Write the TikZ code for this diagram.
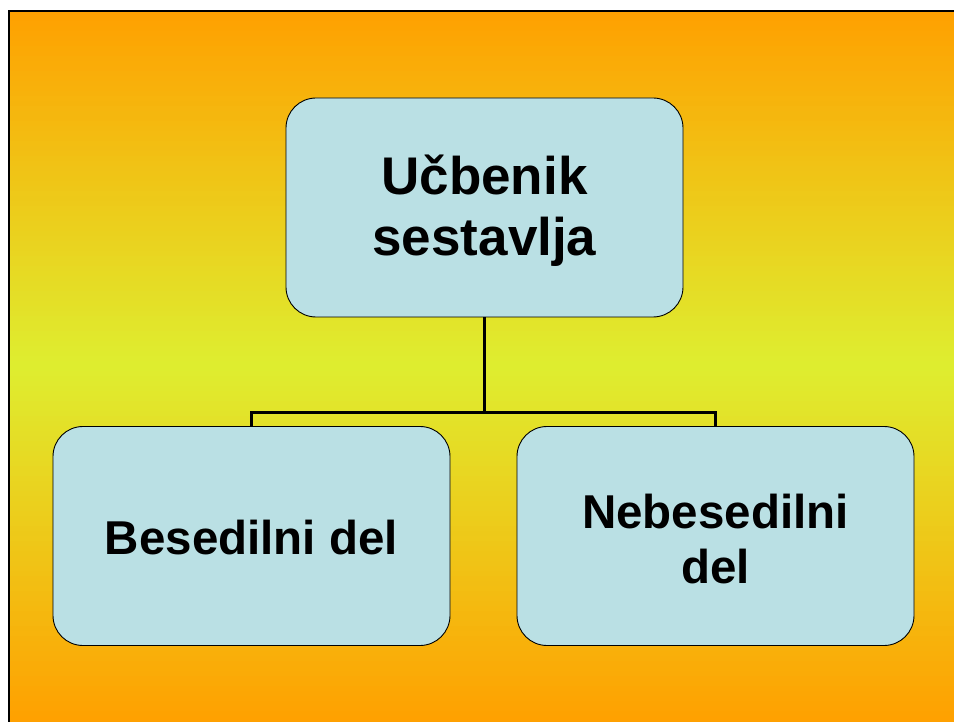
\documentclass[tikz,border=0pt]{standalone}
\usepackage{fontspec}
\setmainfont{Liberation Sans}
\definecolor{bgorange}{RGB}{255,160,0}
\definecolor{bgmid}{RGB}{222,238,48}
\definecolor{boxfill}{RGB}{186,224,228}
\tikzset{
  box/.style={draw=black, line width=0.9pt, fill=boxfill, rounded corners=30pt,
    minimum width=397pt, minimum height=219pt, inner sep=0pt},
  bigtext/.style={align=center, inner sep=0pt, font=\fontsize{53}{61}\selectfont\bfseries},
  smalltext/.style={align=center, inner sep=0pt, font=\fontsize{47.5}{55}\selectfont\bfseries},
  conn/.style={draw=black, line width=2.6pt}
}
\begin{document}
\begin{tikzpicture}[x=1pt,y=-1pt]
\useasboundingbox (0,0) rectangle (954,722);
\fill[white] (-10,-10) rectangle (975,740);
% vertical gradient: orange -> yellow-green -> orange
\foreach \i in {0,...,145} {
  \pgfmathsetmacro{\ya}{11+\i*5}
  \pgfmathsetmacro{\yb}{\ya+5.6}
  \pgfmathsetmacro{\t}{min(1,abs((\ya+2.5-366)/356))}
  \pgfmathsetmacro{\p}{round(100*(1-\t))}
  \fill[bgmid!\p!bgorange] (9,\ya) rectangle (975,\yb);
}
\draw[black, line width=2.6pt] (9,740) -- (9,11) -- (975,11);
\node[box] (top) at (484.5,207.5) {};
\node[box] (left) at (251.5,536) {};
\node[box] (right) at (715.5,536) {};
\node[bigtext] (toptext) at ([yshift=-3pt]top.center) {Učbenik\\sestavlja};
\node[smalltext] (lefttext) at ([yshift=-2pt]left.center) {Besedilni del};
\node[smalltext] (righttext) at ([yshift=-3pt]right.center) {Nebesedilni\\del};
\draw[conn] (top.south) -- ++(0,95) -| (left.north);
\draw[conn] (top.south) -- ++(0,95) -| (right.north);
\end{tikzpicture}
\end{document}
